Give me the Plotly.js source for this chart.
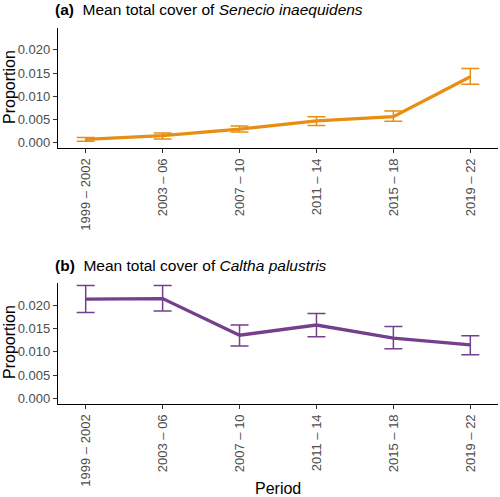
<!DOCTYPE html>
<html>
<head>
<meta charset="utf-8">
<script src="https://cdn.plot.ly/plotly-3.0.1.min.js"></script>
<style>html,body{margin:0;padding:0;background:#fff}#chart{width:500px;height:497px}</style>
</head>
<body>
<div id="chart"></div>
<script>
const periods = ["1999 – 2002", "2003 – 06", "2007 – 10", "2011 – 14", "2015 – 18", "2019 – 22"];
const seneMean  = [0.0007, 0.0015, 0.0029, 0.0047, 0.0056, 0.0142];
const seneUpper = [0.0011, 0.0021, 0.0036, 0.0056, 0.0068, 0.0160];
const seneLower = [0.0003, 0.0008, 0.0023, 0.0037, 0.0046, 0.0126];
const calMean  = [0.0214, 0.0215, 0.0136, 0.0158, 0.0130, 0.0115];
const calUpper = [0.0243, 0.0243, 0.0158, 0.0183, 0.0155, 0.0135];
const calLower = [0.0185, 0.0188, 0.0113, 0.0133, 0.0107, 0.0094];
const yTicks = [0, 0.005, 0.010, 0.015, 0.020];
const yTickText = ["0.000", "0.005", "0.010", "0.015", "0.020"];

const orange = "#E88E12";
const purple = "#74408D";

function trace(mean, up, lo, color, xa, ya) {
  return {
    x: periods, y: mean, xaxis: xa, yaxis: ya, type: "scatter", mode: "lines",
    line: {color: color, width: 3.3},
    error_y: {type: "data", symmetric: false,
      array: up.map((u, i) => u - mean[i]),
      arrayminus: lo.map((l, i) => mean[i] - l),
      color: color, thickness: 1.5, width: 9},
    hoverinfo: "skip", showlegend: false
  };
}

const tickFont = {family: "Liberation Sans, Arial, sans-serif", size: 13, color: "#4d4d4d"};
function xax(anchor) {
  return {domain: [58/500, 498/500], anchor: anchor, type: "category",
    range: [-0.36, 5.36], showline: true, linecolor: "#000", linewidth: 1.2,
    ticks: "outside", ticklen: 4, tickcolor: "#333", tickangle: -90,
    tickfont: tickFont, showgrid: false, zeroline: false, automargin: false};
}
function yax(anchor, dom, rng) {
  return {domain: dom, anchor: anchor, range: rng, tickvals: yTicks, ticktext: yTickText,
    showline: true, linecolor: "#000", linewidth: 1.2, ticks: "outside", ticklen: 4,
    tickcolor: "#333", tickfont: tickFont, showgrid: false, zeroline: false, automargin: false};
}

const titleFont = {family: "Liberation Sans, Arial, sans-serif", size: 15.5, color: "#000"};
const axTitleFont = {family: "Liberation Sans, Arial, sans-serif", size: 16, color: "#000"};

const layout = {
  width: 500, height: 497,
  margin: {l: 0, r: 0, t: 0, b: 0},
  paper_bgcolor: "#fff", plot_bgcolor: "#fff",
  xaxis: xax("y"),
  yaxis: yax("x", [1 - 148/497, 1 - 28/497], [-0.00115, 0.0247]),
  xaxis2: xax("y2"),
  yaxis2: yax("x2", [1 - 404/497, 1 - 283.3/497], [-0.00123, 0.0248]),
  annotations: [
    {text: "<b>(a)</b>  Mean total cover of <i>Senecio inaequidens</i>", xref: "paper", yref: "paper",
     x: 53/500, y: 1 - 9/497, xanchor: "left", yanchor: "middle", showarrow: false, font: titleFont},
    {text: "<b>(b)</b>  Mean total cover of <i>Caltha palustris</i>", xref: "paper", yref: "paper",
     x: 53/500, y: 1 - 265/497, xanchor: "left", yanchor: "middle", showarrow: false, font: titleFont},
    {text: "Proportion", xref: "paper", yref: "paper", x: 9/500, y: 1 - 87/497, textangle: -90,
     xanchor: "center", yanchor: "middle", showarrow: false, font: axTitleFont},
    {text: "Proportion", xref: "paper", yref: "paper", x: 9/500, y: 1 - 342/497, textangle: -90,
     xanchor: "center", yanchor: "middle", showarrow: false, font: axTitleFont},
    {text: "Period", xref: "paper", yref: "paper", x: 278/500, y: 1 - 488/497,
     xanchor: "center", yanchor: "middle", showarrow: false, font: axTitleFont}
  ]
};

Plotly.newPlot("chart", [
  trace(seneMean, seneUpper, seneLower, orange, "x", "y"),
  trace(calMean, calUpper, calLower, purple, "x2", "y2")
], layout, {staticPlot: true, displayModeBar: false});
</script>
</body>
</html>
